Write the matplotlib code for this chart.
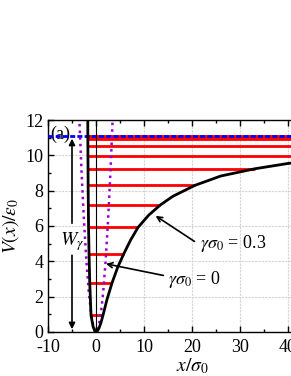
import numpy as np
import matplotlib
matplotlib.use("Agg")
import matplotlib.pyplot as plt
from matplotlib.ticker import MultipleLocator

plt.rcParams["font.family"] = ["Liberation Serif", "DejaVu Serif"]
plt.rcParams["mathtext.fontset"] = "stix"
plt.rcParams["axes.unicode_minus"] = False

# gamma*sigma0 = 0.3 potential
x_g = [-1.72, -1.70, -1.68, -1.66, -1.64, -1.60, -1.55, -1.45, -1.30, -1.04, -0.60, -0.20, 0.15,
       0.60, 1.00, 1.46, 2.30, 3.33, 4.50, 5.76, 7.20, 8.75, 11.0, 13.4, 16.0, 20.6, 26.0, 33.1, 40.0, 50.0]
v_g = [12.5, 11.1, 9.98, 9.24, 8.30, 7.19, 5.92, 4.41, 2.77, 0.95, 0.30, 0.03, 0.0,
       0.20, 0.50, 0.95, 1.85, 2.77, 3.65, 4.41, 5.20, 5.92, 6.62, 7.19, 7.68, 8.30, 8.83, 9.24, 9.54, 9.85]

# gamma*sigma0 = 0 (harmonic) potential
x_h = [-3.6, -3.0, -2.5, -2.0, -1.5, -1.0, -0.5, 0.0, 0.5, 1.0, 1.5, 2.0, 2.5, 3.0, 3.5]
v_h = [12.9, 9.0, 6.25, 4.0, 2.25, 1.0, 0.25, 0.0, 0.25, 1.0, 2.25, 4.0, 6.25, 9.0, 12.25]

# bound-state energy levels and their turning points
levels = [0.95, 2.77, 4.41, 5.92, 7.19, 8.30, 9.24, 9.98, 10.52, 10.92, 11.04, 11.1]
lev_left = [-1.04, -1.30, -1.45, -1.55, -1.60, -1.64, -1.66, -1.68, -1.69, -1.70, -1.70, -1.70]
lev_right = [1.46, 3.33, 5.76, 8.75, 13.4, 20.6, 33.1, 50, 50, 50, 50, 50]
W_gamma = 11.1

fig = plt.figure(figsize=(2.91, 3.76), dpi=100)
ax = fig.add_axes([48/291, 44/376, 288/291, 212/376])

ax.grid(True, which="major", color="#d4d4d4", lw=0.8, ls=(0, (2, 1)))
ax.set_axisbelow(True)

ax.hlines(levels, lev_left, lev_right, color="#ff0000", lw=2.0, zorder=3)
ax.axhline(W_gamma, color="#0000ff", lw=2.0, ls=(0, (1.8, 0.8)), zorder=4)
ax.plot(x_h, v_h, color="#9900cc", lw=1.8, ls=":", zorder=5)
ax.plot([0, 0], [0, 12], color="black", lw=0.8, zorder=5)
ax.plot(x_g, v_g, color="black", lw=2.0, zorder=6)

# W_gamma double arrow
ax.annotate("", xy=(-5, W_gamma), xytext=(-5, 6.0),
            arrowprops=dict(arrowstyle="-|>", color="black", lw=1.2, mutation_scale=9))
ax.annotate("", xy=(-5, 0), xytext=(-5, 4.5),
            arrowprops=dict(arrowstyle="-|>", color="black", lw=1.2, mutation_scale=9))
ax.text(-5, 5.1, r"$W_\gamma$", ha="center", va="center", fontsize=14)

# curve labels
ax.annotate("", xy=(11.94, 6.66), xytext=(21.0, 5.04),
            arrowprops=dict(arrowstyle="->", color="black", lw=1.2, mutation_scale=9))
ax.text(21.7, 5.0, r"$\gamma\sigma_0$ = 0.3", ha="left", va="center", fontsize=13)
ax.annotate("", xy=(1.5, 3.89), xytext=(14.6, 3.17),
            arrowprops=dict(arrowstyle="->", color="black", lw=1.2, mutation_scale=9))
ax.text(15.0, 3.0, r"$\gamma\sigma_0$ = 0", ha="left", va="center", fontsize=13)

ax.text(-9.6, 11.2, "(a)", ha="left", va="center", fontsize=13)

ax.set_xlim(-10, 50)
ax.set_ylim(0, 12)
ax.xaxis.set_major_locator(MultipleLocator(10))
ax.xaxis.set_minor_locator(MultipleLocator(5))
ax.yaxis.set_major_locator(MultipleLocator(2))
ax.yaxis.set_minor_locator(MultipleLocator(1))
ax.tick_params(which="both", direction="in", top=True, right=True, labelsize=13, width=1)
ax.tick_params(which="major", length=4)
ax.tick_params(axis="x", which="major", pad=5)
ax.tick_params(which="minor", length=2.5)
for s in ax.spines.values():
    s.set_linewidth(1.0)

ax.set_xlabel(r"$x/\sigma_0$", fontsize=14, labelpad=0)
ax.set_ylabel(r"$V(x)/\varepsilon_0$", fontsize=14, labelpad=3)

fig.savefig("out.png", dpi=100)
